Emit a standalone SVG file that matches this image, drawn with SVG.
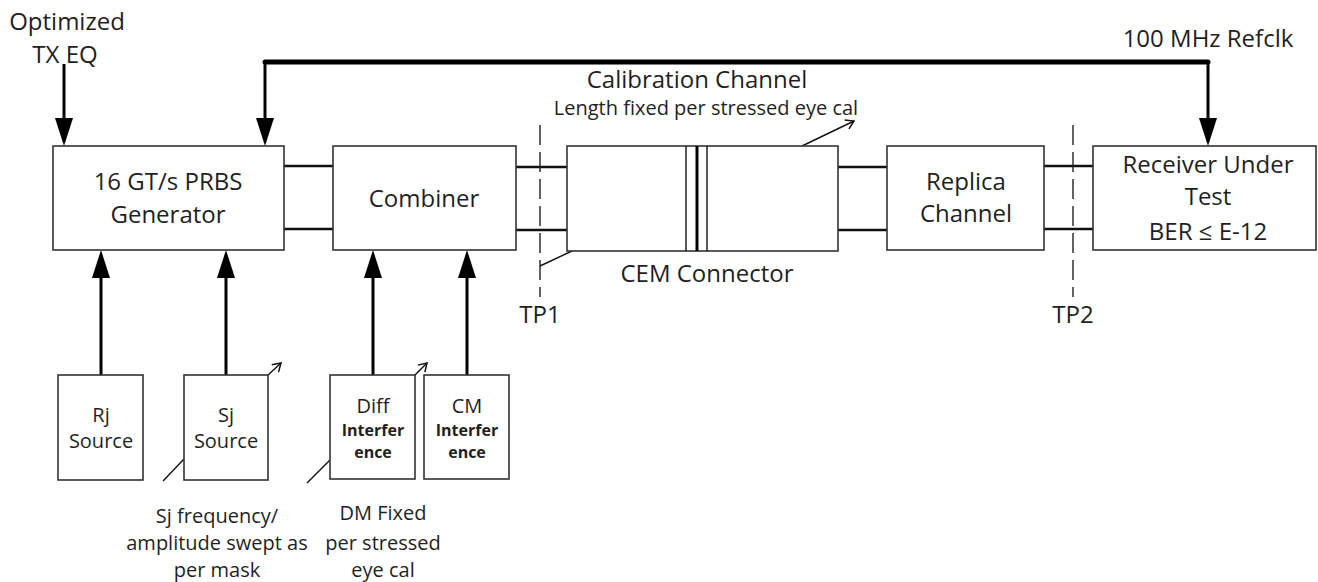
<svg xmlns="http://www.w3.org/2000/svg" width="1318" height="582" viewBox="0 0 1318 582">
<defs>
<marker id="open" markerWidth="12" markerHeight="12" refX="9" refY="6" orient="auto" markerUnits="userSpaceOnUse">
<path d="M1,1 L9,6 L1,11" fill="none" stroke="#111" stroke-width="1.5"/>
</marker>
</defs>
<style>
.box{fill:#fff;stroke:#333;stroke-width:1.6}
.t{font-family:"Open Sans","Liberation Sans",sans-serif;fill:#1f1f1f;text-anchor:middle}
.big{font-size:24px}
.mid{font-size:20px}
.bold{font-size:16px;font-weight:bold}
.pair{stroke:#111;stroke-width:2.6;fill:none}
.arr{stroke:#000;stroke-width:3;fill:none}
.bus{stroke:#000;stroke-width:5;fill:none;stroke-linecap:round;stroke-linejoin:round}
.head{fill:#000}
.dash{stroke:#222;stroke-width:1.4;stroke-dasharray:20,7;fill:none}
.thin{stroke:#111;stroke-width:1.4;fill:none}
</style>
<rect width="1318" height="582" fill="#fff"/>

<g id="connectors">
<path class="bus" d="M265,62 L1208,62"/>
<path class="arr" d="M265,62 L265,120"/>
<path class="arr" d="M1208,62 L1208,120"/>
<path class="arr" d="M64,64 L64,120"/>
<polygon class="head" points="256,118 274,118 265,146"/>
<polygon class="head" points="1199,118 1217,118 1208,146"/>
<polygon class="head" points="55,118 73,118 64,146"/>
<path class="pair" d="M284,166 L333,166 M284,229 L333,229"/>
<path class="pair" d="M516,167 L567,167 M516,230 L567,230"/>
<path class="pair" d="M838,167 L887,167 M838,230 L887,230"/>
<path class="pair" d="M1044,166 L1093,166 M1044,229 L1093,229"/>
<path class="arr" d="M101,375 L101,276 M226,375 L226,276 M373,375 L373,276 M467,375 L467,276"/>
<polygon class="head" points="92,278 110,278 101,250"/>
<polygon class="head" points="217,278 235,278 226,250"/>
<polygon class="head" points="364,278 382,278 373,250"/>
<polygon class="head" points="458,278 476,278 467,250"/>
<path class="dash" d="M540,125 L540,297"/>
<path class="dash" d="M1073,125 L1073,297"/>
<path class="thin" d="M540,266 L572,251"/>
<path class="thin" d="M802,146 L854,121" marker-end="url(#open)"/>
<path class="thin" d="M268,375 L281,363" marker-end="url(#open)"/>
<path class="thin" d="M163,481 L184,459"/>
<path class="thin" d="M413,377 L427,363" marker-end="url(#open)"/>
<path class="thin" d="M307,483 L330,460"/>
</g>

<g id="labels-top">
<text class="t big" x="67" y="30">Optimized</text>
<text class="t big" x="65" y="63">TX EQ</text>
<text class="t big" x="1208" y="47">100 MHz Refclk</text>
<text class="t big" x="540" y="323">TP1</text>
<text class="t big" x="1073" y="323">TP2</text>
</g>

<g id="prbs">
<rect class="box" x="53" y="146" width="231" height="104"/>
<text class="t big" x="168" y="190">16 GT/s PRBS</text>
<text class="t big" x="168" y="223">Generator</text>
</g>

<g id="combiner">
<rect class="box" x="333" y="146" width="183" height="104"/>
<text class="t big" x="424" y="207">Combiner</text>
</g>

<g id="calibration-channel">
<rect class="box" x="567" y="146" width="271" height="105"/>
<path class="thin" d="M686,146 L686,251 M707,146 L707,251"/>
<path d="M697,146 L697,251" stroke="#000" stroke-width="3"/>
<text class="t big" x="697" y="88">Calibration Channel</text>
<text class="t mid" x="706" y="115">Length fixed per stressed eye cal</text>
<text class="t big" x="707" y="282">CEM Connector</text>
</g>

<g id="replica">
<rect class="box" x="887" y="146" width="157" height="104"/>
<text class="t big" x="966" y="190">Replica</text>
<text class="t big" x="966" y="222">Channel</text>
</g>

<g id="receiver">
<rect class="box" x="1093" y="146" width="223" height="104"/>
<text class="t big" x="1208" y="173">Receiver Under</text>
<text class="t big" x="1208" y="205">Test</text>
<text class="t big" x="1208" y="240">BER ≤ E-12</text>
</g>

<g id="rj-source">
<rect class="box" x="58" y="375" width="85" height="105"/>
<text class="t mid" x="101" y="422">Rj</text>
<text class="t mid" x="101" y="448">Source</text>
</g>

<g id="sj-source">
<rect class="box" x="184" y="375" width="84" height="105"/>
<text class="t mid" x="226" y="422">Sj</text>
<text class="t mid" x="226" y="448">Source</text>
<text class="t mid" x="217" y="523">Sj frequency/</text>
<text class="t mid" x="217" y="550">amplitude swept as</text>
<text class="t mid" x="217" y="577">per mask</text>
</g>

<g id="diff-interference">
<rect class="box" x="330" y="375" width="85" height="104"/>
<text class="t mid" x="373" y="413">Diff</text>
<text class="t bold" x="373" y="436">Interfer</text>
<text class="t bold" x="373" y="458">ence</text>
<text class="t mid" x="383" y="520">DM Fixed</text>
<text class="t mid" x="383" y="550">per stressed</text>
<text class="t mid" x="383" y="577">eye cal</text>
</g>

<g id="cm-interference">
<rect class="box" x="424" y="375" width="85" height="104"/>
<text class="t mid" x="467" y="413">CM</text>
<text class="t bold" x="467" y="436">Interfer</text>
<text class="t bold" x="467" y="458">ence</text>
</g>
</svg>
